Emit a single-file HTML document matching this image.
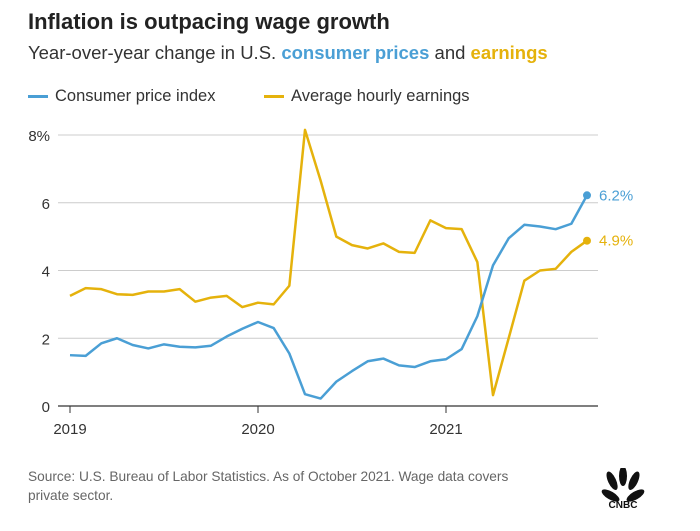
<!DOCTYPE html>
<html><head><meta charset="utf-8"><style>
body{margin:0;background:#fff;font-family:"Liberation Sans",sans-serif;}
#wrap{position:relative;width:700px;height:531px;overflow:hidden;}
.t{position:absolute;white-space:nowrap;}
</style></head><body>
<div id="wrap">
<div class="t" style="left:28px;top:9px;font-size:22px;font-weight:bold;color:#222;">Inflation is outpacing wage growth</div>
<div class="t" style="left:28px;top:42px;font-size:18.5px;color:#333;">Year-over-year change in U.S. <b style="color:#4a9fd5">consumer prices</b> and <b style="color:#e5b20c">earnings</b></div>
<div class="t" style="left:28px;top:87px;font-size:16.5px;color:#333;"><span style="display:inline-block;width:20px;height:3px;background:#4a9fd5;vertical-align:middle;margin-right:7px"></span>Consumer price index</div>
<div class="t" style="left:264px;top:87px;font-size:16.5px;color:#333;"><span style="display:inline-block;width:20px;height:3px;background:#e5b20c;vertical-align:middle;margin-right:7px"></span>Average hourly earnings</div>
<svg id="chart" width="700" height="531" style="position:absolute;left:0;top:0"></svg>
<div class="t" style="left:28px;top:467px;font-size:13.7px;color:#666;line-height:19px;">Source: U.S. Bureau of Labor Statistics. As of October 2021. Wage data covers<br>private sector.</div>
<svg width="50" height="42" style="position:absolute;left:598px;top:468px">
<g fill="#111"><ellipse cx="14" cy="14" rx="4" ry="10" transform="rotate(-60 25 22)"/><ellipse cx="19" cy="9" rx="4" ry="10" transform="rotate(-25 25 22)"/><ellipse cx="25" cy="8" rx="4" ry="10"/><ellipse cx="31" cy="9" rx="4" ry="10" transform="rotate(25 25 22)"/><ellipse cx="36" cy="14" rx="4" ry="10" transform="rotate(60 25 22)"/></g>
<text x="25" y="40" font-size="10" font-weight="bold" text-anchor="middle" fill="#111" font-family="Liberation Sans">CNBC</text></svg>
</div>
<script>
const yTicks=[0,2,4,6,8];
const yTickLabels=["0","2","4","6","8%"];
const xTickLabels=["2019","2020","2021"];
const cpi=[1.5,1.48,1.85,2.0,1.8,1.7,1.82,1.75,1.73,1.78,2.05,2.28,2.48,2.3,1.55,0.35,0.22,0.72,1.03,1.32,1.4,1.2,1.15,1.32,1.38,1.68,2.65,4.15,4.95,5.35,5.3,5.22,5.38,6.22];
const ahe=[3.25,3.48,3.45,3.3,3.28,3.38,3.38,3.45,3.08,3.2,3.25,2.92,3.05,3.0,3.55,8.15,6.65,5.0,4.75,4.65,4.8,4.55,4.52,5.48,5.25,5.22,4.25,0.32,2.0,3.7,4.0,4.05,4.55,4.88];
const x=i=>70+i*188/12, y=v=>406-v*271/8;
const svg=document.getElementById('chart'),NS='http://www.w3.org/2000/svg';
function mk(t,a){const e=document.createElementNS(NS,t);for(const k in a)e.setAttribute(k,a[k]);svg.appendChild(e);return e;}
yTicks.forEach((v,i)=>{
 const g=mk('line',{x1:58,x2:598,y1:y(v),y2:y(v),stroke:v===0?'#333':'#ccc','stroke-width':v===0?1.2:1});
 
 
 const t=mk('text',{x:50,y:y(v)+6,'text-anchor':'end','font-size':15,fill:'#333','font-family':'Liberation Sans'});t.textContent=yTickLabels[i];
 
 
});
xTickLabels.forEach((l,i)=>{
 const tk=mk('line',{x1:x(i*12),x2:x(i*12),y1:406,y2:413,stroke:'#333'});
 
 
 const t=mk('text',{x:x(i*12),y:434,'text-anchor':'middle','font-size':15,fill:'#333','font-family':'Liberation Sans'});t.textContent=l;
 
 
});
[[ahe,'#e5b20c','earnings-line','4.9%'],[cpi,'#4a9fd5','cpi-line','6.2%']].forEach(([d,c,n,lab])=>{
 const p=mk('polyline',{points:d.map((v,i)=>x(i)+','+y(v)).join(' '),fill:'none',stroke:c,'stroke-width':2.5,'stroke-linejoin':'round'});
 
 
 const L=d.length-1;
 const dot=mk('circle',{cx:x(L),cy:y(d[L]),r:4,fill:c});
 
 
 const t=mk('text',{x:x(L)+12,y:y(d[L])+5,'font-size':15,fill:c,'font-family':'Liberation Sans'});t.textContent=lab;
 
 
});
</script>
</body></html>
